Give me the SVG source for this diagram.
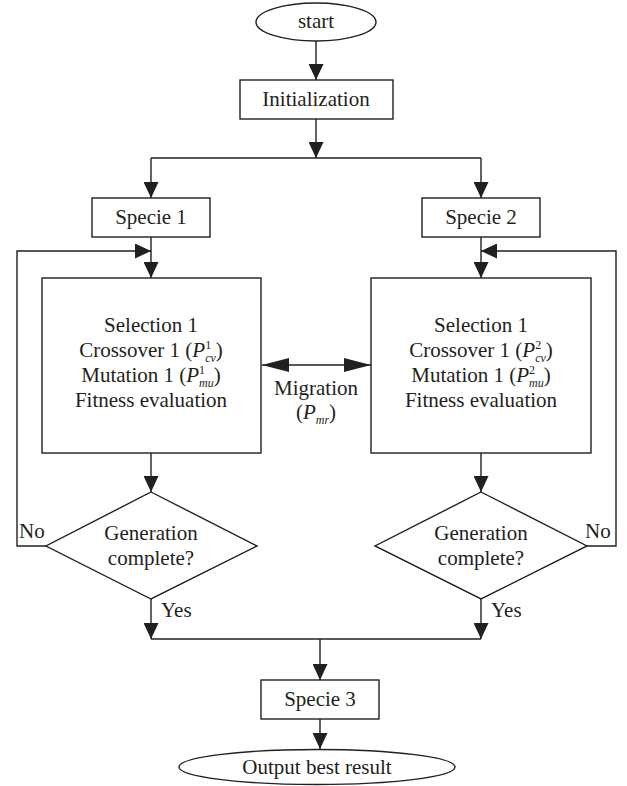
<svg xmlns="http://www.w3.org/2000/svg" width="627" height="786" viewBox="0 0 627 786">
  <style>
    .shape { fill: #ffffff; stroke: #231f20; stroke-width: 1.4; }
    .wire { fill: none; stroke: #231f20; stroke-width: 1.4; }
    text { font-family: "Liberation Serif", "Times New Roman", serif; font-size: 21px; fill: #231f20; }
    .c { text-anchor: middle; }
    .it { font-style: italic; }
    .sm { font-size: 12px; }
  </style>
  <defs>
    <marker id="arrow" markerUnits="userSpaceOnUse" markerWidth="16" markerHeight="15" refX="16" refY="7.5" orient="auto">
      <path d="M0,0 L16,7.5 L0,15 Z" fill="#231f20"/>
    </marker>
    <marker id="arrowWide" markerUnits="userSpaceOnUse" markerWidth="27" markerHeight="14" refX="27" refY="7" orient="auto">
      <path d="M0,0 L27,7 L0,14 Z" fill="#231f20"/>
    </marker>
  </defs>

  <rect width="627" height="786" fill="#ffffff"/>

  <!-- connectors -->
  <g id="connectors">
    <line class="wire" x1="316" y1="41" x2="316" y2="80" marker-end="url(#arrow)"/>
    <line class="wire" x1="316" y1="119" x2="316" y2="158" marker-end="url(#arrow)"/>
    <line class="wire" x1="151" y1="158" x2="481" y2="158"/>
    <line class="wire" x1="151" y1="158" x2="151" y2="198" marker-end="url(#arrow)"/>
    <line class="wire" x1="481" y1="158" x2="481" y2="198" marker-end="url(#arrow)"/>

    <line class="wire" x1="151" y1="237" x2="151" y2="278" marker-end="url(#arrow)"/>
    <line class="wire" x1="481" y1="237" x2="481" y2="278" marker-end="url(#arrow)"/>

    <!-- feedback loops -->
    <path class="wire" d="M46,546 L17,546 L17,251 L151,251" marker-end="url(#arrow)"/>
    <path class="wire" d="M587,546 L616,546 L616,251 L481,251" marker-end="url(#arrow)"/>

    <!-- migration -->
    <line class="wire" x1="316" y1="365" x2="262" y2="365" marker-end="url(#arrowWide)"/>
    <line class="wire" x1="316" y1="365" x2="371" y2="365" marker-end="url(#arrowWide)"/>

    <line class="wire" x1="151" y1="453" x2="151" y2="492" marker-end="url(#arrow)"/>
    <line class="wire" x1="481" y1="453" x2="481" y2="492" marker-end="url(#arrow)"/>

    <line class="wire" x1="151" y1="599" x2="151" y2="639" marker-end="url(#arrow)"/>
    <line class="wire" x1="481" y1="599" x2="481" y2="639" marker-end="url(#arrow)"/>
    <line class="wire" x1="151" y1="639" x2="481" y2="639"/>
    <line class="wire" x1="320" y1="639" x2="320" y2="680" marker-end="url(#arrow)"/>
    <line class="wire" x1="320" y1="719" x2="320" y2="749" marker-end="url(#arrow)"/>

    <text x="19" y="538">No</text>
    <text x="585" y="538">No</text>
    <text x="161" y="617">Yes</text>
    <text x="491" y="617">Yes</text>

    <text class="c" x="316" y="395">Migration</text>
    <text class="c" x="316" y="419">(<tspan class="it">P</tspan><tspan class="it sm" dy="5">mr</tspan><tspan dy="-5">)</tspan></text>
  </g>

  <g id="start">
    <ellipse class="shape" cx="316" cy="22" rx="60" ry="19"/>
    <text class="c" x="316" y="28">start</text>
  </g>

  <g id="initialization">
    <rect class="shape" x="240" y="80" width="153" height="39"/>
    <text class="c" x="316" y="106">Initialization</text>
  </g>

  <g id="specie1">
    <rect class="shape" x="92" y="198" width="118" height="39"/>
    <text class="c" x="151" y="224">Specie 1</text>
  </g>

  <g id="specie2">
    <rect class="shape" x="422" y="198" width="118" height="39"/>
    <text class="c" x="481" y="224">Specie 2</text>
  </g>

  <g id="ga1">
    <rect class="shape" x="42" y="278" width="219" height="175"/>
    <text class="c" x="151" y="332">Selection 1</text>
    <text class="c" x="151" y="357">Crossover 1 (<tspan class="it">P</tspan><tspan class="sm" dy="-8">1</tspan><tspan class="it sm" dx="-6" dy="13">cv</tspan><tspan dy="-5">)</tspan></text>
    <text class="c" x="151" y="382">Mutation 1 (<tspan class="it">P</tspan><tspan class="sm" dy="-8">1</tspan><tspan class="it sm" dx="-6" dy="13">mu</tspan><tspan dy="-5">)</tspan></text>
    <text class="c" x="151" y="407">Fitness evaluation</text>
  </g>

  <g id="ga2">
    <rect class="shape" x="371" y="278" width="220" height="175"/>
    <text class="c" x="481" y="332">Selection 1</text>
    <text class="c" x="481" y="357">Crossover 1 (<tspan class="it">P</tspan><tspan class="sm" dy="-8">2</tspan><tspan class="it sm" dx="-6" dy="13">cv</tspan><tspan dy="-5">)</tspan></text>
    <text class="c" x="481" y="382">Mutation 1 (<tspan class="it">P</tspan><tspan class="sm" dy="-8">2</tspan><tspan class="it sm" dx="-6" dy="13">mu</tspan><tspan dy="-5">)</tspan></text>
    <text class="c" x="481" y="407">Fitness evaluation</text>
  </g>

  <g id="check1">
    <polygon class="shape" points="151,492 257,546 151,599 46,546"/>
    <text class="c" x="151" y="540">Generation</text>
    <text class="c" x="151" y="565">complete?</text>
  </g>

  <g id="check2">
    <polygon class="shape" points="481,492 587,546 481,599 375,546"/>
    <text class="c" x="481" y="540">Generation</text>
    <text class="c" x="481" y="565">complete?</text>
  </g>

  <g id="specie3">
    <rect class="shape" x="261" y="680" width="118" height="39"/>
    <text class="c" x="320" y="706">Specie 3</text>
  </g>

  <g id="output">
    <ellipse class="shape" cx="317" cy="767" rx="138" ry="17.5"/>
    <text class="c" x="317" y="774">Output best result</text>
  </g>
</svg>
